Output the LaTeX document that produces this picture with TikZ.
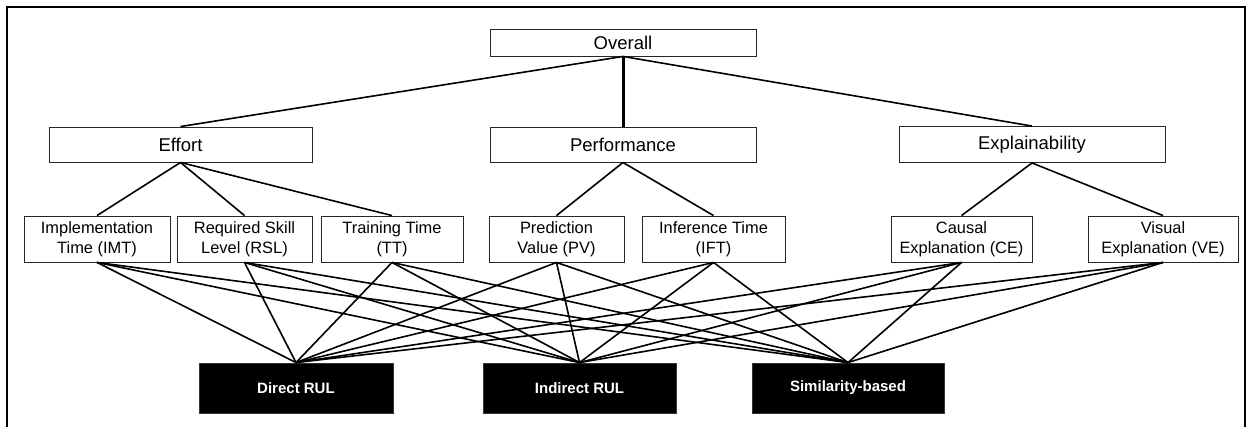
\documentclass[tikz,border=0pt]{standalone}
\usepackage{fontspec}
\setmainfont{Liberation Sans}
\begin{document}
\begin{tikzpicture}[x=1pt,y=-1pt,
  topbox/.style={draw=black!85,line width=0.9pt,inner sep=0pt,font=\fontsize{18.5}{22}\selectfont,text=black},
  midbox/.style={draw=black!85,line width=0.9pt,inner sep=0pt,align=center,minimum height=46pt,font=\fontsize{16.4}{20}\selectfont,text=black},
  altbox/.style={fill=black,draw=black!80,line width=0.9pt,inner sep=0pt,minimum height=50pt,text=white,font=\fontsize{15}{18}\selectfont\bfseries},
  conn/.style={line width=1.6pt}]
\useasboundingbox (0,0) rectangle (1256,426);
\draw[line width=2pt] (7,440) -- (7,7) -- (1245,7) -- (1245,440);
% top
\node[topbox,minimum width=266pt,minimum height=27pt] (ov) at (623,42.5) {Overall};
\node[topbox,minimum width=263pt,minimum height=35pt] (ef) at (180.5,144.5) {Effort};
\node[topbox,minimum width=266pt,minimum height=35pt] (pf) at (623,144.5) {Performance};
\node[topbox,minimum width=266pt,minimum height=36pt] (ex) at (1032,144.5) {Explainability};
% mid
\node[midbox,minimum width=146pt] (imt) at (97,239) {Implementation\\Time (IMT)};
\node[midbox,minimum width=135pt] (rsl) at (244.5,239) {Required Skill\\Level (RSL)};
\node[midbox,minimum width=142pt] (tt) at (392,239) {Training Time\\(TT)};
\node[midbox,minimum width=135pt] (pv) at (556.5,239) {Prediction\\Value (PV)};
\node[midbox,minimum width=143pt] (ift) at (713.5,239) {Inference Time\\(IFT)};
\node[midbox,minimum width=141pt] (ce) at (961.5,239) {Causal\\Explanation (CE)};
\node[midbox,minimum width=150pt] (ve) at (1163,239) {Visual\\Explanation (VE)};
% bottom
\node[altbox,minimum width=194pt] (dr) at (296,388) {Direct RUL};
\node[altbox,minimum width=193pt] (ir) at (579.5,388) {Indirect RUL};
\node[altbox,minimum width=192pt] (sb) at (848,388) {Similarity-based};
% connectors
\draw[conn] (ov.south) -- (ef.north);
\draw[line width=3pt] (ov.south) -- (pf.north);
\draw[conn] (ov.south) -- (ex.north);
\foreach \c in {imt,rsl,tt} \draw[conn] (ef.south) -- (\c.north);
\foreach \c in {pv,ift} \draw[conn] (pf.south) -- (\c.north);
\foreach \c in {ce,ve} \draw[conn] (ex.south) -- (\c.north);
\foreach \m in {imt,rsl,tt,pv,ift,ce,ve}
  \foreach \b in {dr,ir,sb}
    \draw[conn] (\m.south) -- (\b.north);
\end{tikzpicture}
\end{document}
